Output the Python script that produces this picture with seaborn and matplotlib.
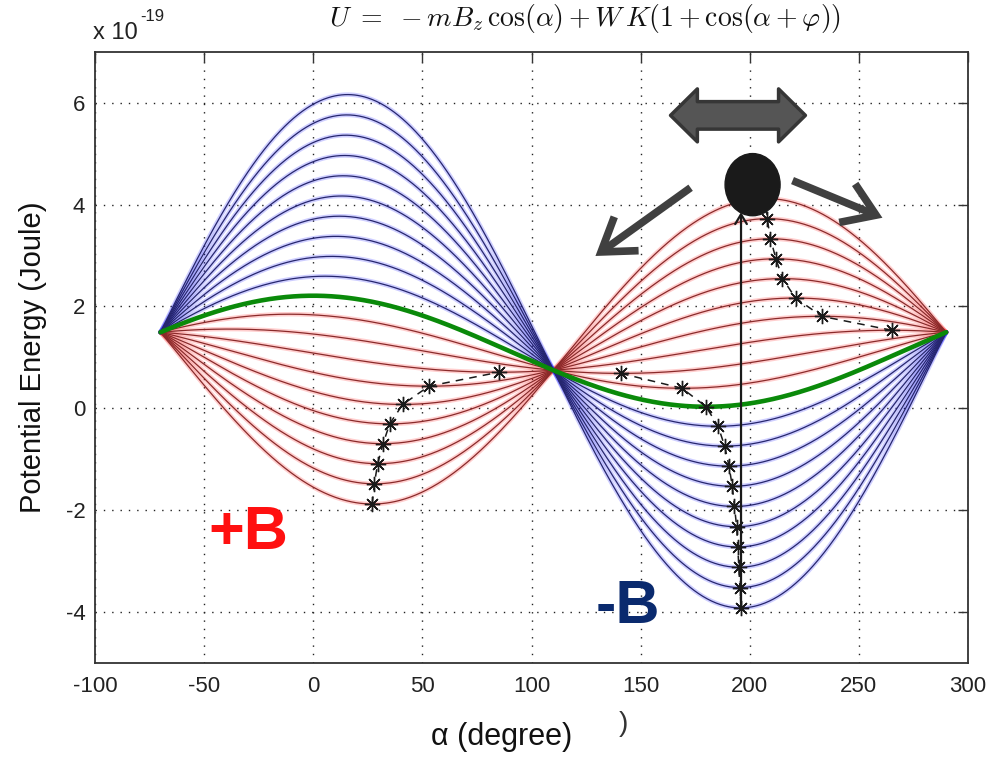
import numpy as np
import pandas as pd
import matplotlib
matplotlib.use("Agg")
import matplotlib.pyplot as plt
import matplotlib.patches as mpatches
from matplotlib import font_manager
import seaborn as sns

# ---- data -------------------------------------------------------------
# field-dependent amplitude of each curve (x 1e-19 J); < 0 -> red (+B), > 0 -> blue (-B)
field_terms = [-4.0, -3.6, -3.2, -2.8, -2.4, -2.0, -1.6, -1.2, -0.8, -0.4,
               0.4, 0.8, 1.2, 1.6, 2.0, 2.4, 2.8, 3.2, 3.6, 4.0]
anis_offset = 1.12          # W K offset term (x 1e-19 J)
anis_amp = 1.09             # W K amplitude (x 1e-19 J)
field_phase = 20.0          # phase of the Zeeman term (degree)
angle_range = (-70.0, 290.0)
region_split = 110.0
x_ticks = [-100, -50, 0, 50, 100, 150, 200, 250, 300]
x_tick_labels = ["-100", "-50", "0", "50", "100", "150", "200", "250", "300"]
y_ticks = [-4, -2, 0, 2, 4, 6]
y_tick_labels = ["-4", "-2", "0", "2", "4", "6"]

# ---- helpers ----------------------------------------------------------
def pick_font(names):
    for n in names:
        try:
            font_manager.findfont(n, fallback_to_default=False)
            return n
        except Exception:
            continue
    return "DejaVu Sans"

sns.set_theme(style="white")
base_font = pick_font(["Liberation Sans", "Arial"])
narrow_font = pick_font(["Liberation Sans Narrow", "Liberation Sans"])
plt.rcParams["font.family"] = [base_font, "DejaVu Sans"]
plt.rcParams["mathtext.fontset"] = "cm"

alpha = np.arange(angle_range[0], angle_range[1] + 0.25, 0.5)
rad = np.deg2rad(alpha)
baseline = anis_offset + anis_amp * np.cos(rad)

rows = []
for b in field_terms:
    u = baseline + b * np.cos(rad - np.deg2rad(field_phase))
    rows.append(pd.DataFrame({"alpha": alpha, "U": u, "b": b}))
df = pd.concat(rows, ignore_index=True)
df_base = pd.DataFrame({"alpha": alpha, "U": baseline})

halo_pal = {b: ("#ff2020" if b < 0 else "#2020ff") for b in field_terms}
line_pal = {b: ("#8a2a2a" if b < 0 else "#26266e") for b in field_terms}

# ---- figure -----------------------------------------------------------
W, H = 996, 759
fig = plt.figure(figsize=(W / 100, H / 100), dpi=100)
ax = fig.add_axes([95 / W, 1 - 663 / H, (968 - 95) / W, (663 - 51.7) / H])

sns.lineplot(data=df, x="alpha", y="U", hue="b", palette=halo_pal,
             estimator=None, sort=False, legend=False, lw=3.2, alpha=0.22, ax=ax)
sns.lineplot(data=df, x="alpha", y="U", hue="b", palette=line_pal,
             estimator=None, sort=False, legend=False, lw=0.9, ax=ax)
sns.lineplot(data=df_base, x="alpha", y="U", color="#0a8a0a",
             estimator=None, sort=False, lw=3.3, ax=ax)

# interior extrema of each curve on both sides of the crossing point
def interior(b_values, lo, hi, kind):
    pts = []
    for b in b_values:
        sub = df[df["b"] == b] if b is not None else df_base
        m = (sub["alpha"] >= lo) & (sub["alpha"] <= hi)
        a = sub["alpha"][m].to_numpy()
        u = sub["U"][m].to_numpy()
        i = int(np.argmin(u)) if kind == "min" else int(np.argmax(u))
        if 0 < i < len(u) - 1:
            pts.append((a[i], u[i]))
    return np.array(pts)

neg = [b for b in field_terms if b < 0]
pos = [b for b in field_terms if b > 0]
left_min = interior(neg, angle_range[0], region_split, "min")
right_min = interior(neg + [None] + pos, region_split, angle_range[1], "min")
right_max = interior(neg[::-1], region_split, angle_range[1], "max")

star = (8, 2, 0)
for pts in (left_min, right_min, right_max):
    ax.plot(pts[:, 0], pts[:, 1], color="k", ls="--", dashes=(5, 4), lw=1.1,
            marker=star, ms=11, mew=1.0, mec="k", zorder=5)

# vertical arrow from the deepest minimum upward
x_arrow = right_min[-1, 0]
ax.annotate("", xy=(x_arrow, 3.85), xytext=(x_arrow, right_min[-1, 1]),
            arrowprops=dict(arrowstyle="->,head_length=0.5,head_width=0.3",
                            lw=1.6, color="k", shrinkA=0, shrinkB=0,
                            mutation_scale=14), zorder=6)

# ball
ax.add_patch(mpatches.Ellipse((201.3, 4.39), 25.2, 1.22, color="k", zorder=8))

# gray direction arrows
for start, end in [((172.9, 4.33), (129.3, 2.99)), ((219.6, 4.47), (260.8, 3.74))]:
    ax.annotate("", xy=end, xytext=start,
                arrowprops=dict(arrowstyle="->,head_length=0.75,head_width=0.5",
                                lw=5.5, color="#404040", shrinkA=0, shrinkB=0,
                                mutation_scale=30, joinstyle="miter",
                                capstyle="butt"), zorder=7)

# double-headed block arrow
x0, x1, yc = 163.7, 225.5, 5.75
hl, hh, sh = 12.3, 0.52, 0.27
verts = [(x0, yc), (x0 + hl, yc + hh), (x0 + hl, yc + sh), (x1 - hl, yc + sh),
         (x1 - hl, yc + hh), (x1, yc), (x1 - hl, yc - hh), (x1 - hl, yc - sh),
         (x0 + hl, yc - sh), (x0 + hl, yc - hh)]
ax.add_patch(mpatches.Polygon(verts, closed=True, fc="#555555", ec="#363636",
                              lw=2.5, joinstyle="round", zorder=7))

# axes styling
ax.set_xlim(-100, 300)
ax.set_ylim(-5, 7)
ax.set_xticks(x_ticks)
ax.set_xticklabels(x_tick_labels)
ax.set_yticks(y_ticks)
ax.set_yticklabels(y_tick_labels)
ax.set_xlabel("")
ax.set_ylabel("")
ax.tick_params(direction="in", length=7, width=1, color="#333333",
               top=True, right=True, labelsize=16, labelcolor="#222222")
ax.tick_params(axis="x", pad=9)
ax.tick_params(axis="y", pad=7)
ax.grid(True, color="#222222", linestyle=(0, (1, 5)), lw=1.0)
ax.set_axisbelow(True)
for s in ax.spines.values():
    s.set_color("#333333")
    s.set_linewidth(1.3)

def px(x, y):
    return x / W, 1 - y / H

# texts
fig.text(*px(585, 26), r"$U\ =\ -mB_z\,\cos(\alpha) + W\,K(1+\cos(\alpha+\varphi))$",
         ha="center", va="baseline", fontsize=20, color="#111111")
fig.text(*px(93, 39), "x 10", fontsize=17, va="baseline", color="#222222")
fig.text(*px(140, 21), "-19", fontsize=12, va="baseline", color="#222222")
fig.text(*px(33, 357), "Potential Energy (Joule)", rotation=90,
         ha="center", va="center", fontsize=21, color="#111111")
fig.text(*px(502, 737), "α (degree)", ha="center", va="center",
         fontsize=22, color="#111111")
fig.text(*px(623, 724), ")", ha="center", va="center", fontsize=20,
         fontweight="light", color="#333333")
fig.text(*px(208, 549), "+B", fontsize=44, fontweight="bold", color="#ff1010",
         family=[narrow_font, "DejaVu Sans"], va="baseline")
fig.text(*px(596, 623), "-B", fontsize=44, fontweight="bold", color="#0a2a6e",
         family=[narrow_font, "DejaVu Sans"], va="baseline")

fig.savefig("out.png", dpi=100)
